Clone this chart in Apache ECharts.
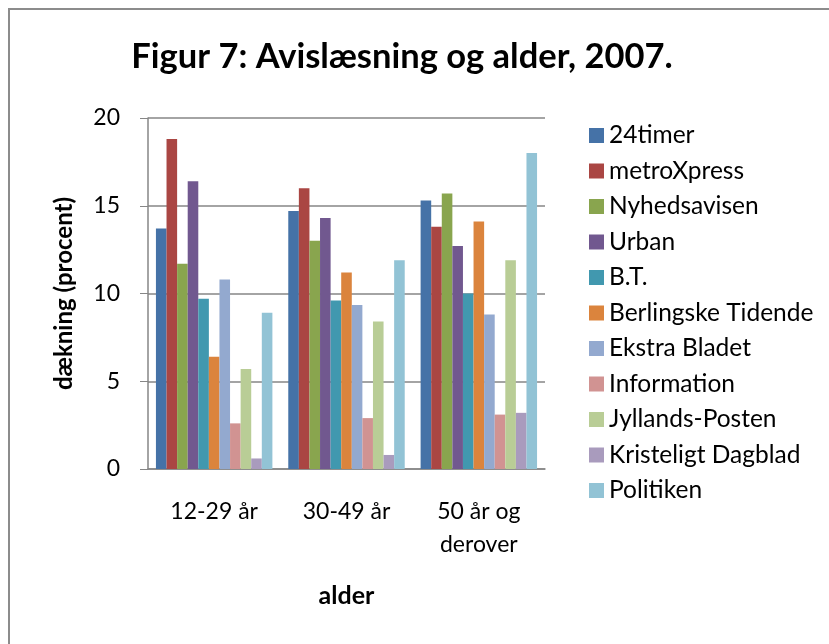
<!DOCTYPE html>
<html lang="da">
<head>
<meta charset="UTF-8">
<title>Figur 7: Avislæsning og alder, 2007.</title>
<script src="https://cdn.jsdelivr.net/npm/echarts@6/dist/echarts.min.js"></script>
<style>
    html, body { margin: 0; padding: 0; background: #fff; }
    #main { width: 829px; height: 644px; }
</style>
</head>
<body>
<div id="main"></div>
<script>
    // age groups
    var categories = ['12-29 år', '30-49 år', '50 år og\nderover'];
    var yTicks = [0, 5, 10, 15, 20];

    // coverage per paper (percent), one value per age group
    var timer24 = [13.7, 14.7, 15.3];
    var metroXpress = [18.8, 16.0, 13.8];
    var nyhedsavisen = [11.7, 13.0, 15.7];
    var urban = [16.4, 14.3, 12.7];
    var bt = [9.7, 9.6, 10.0];
    var berlingske = [6.4, 11.2, 14.1];
    var ekstraBladet = [10.8, 9.35, 8.8];
    var information = [2.6, 2.9, 3.1];
    var jyllandsPosten = [5.7, 8.4, 11.9];
    var kristeligt = [0.6, 0.8, 3.2];
    var politiken = [8.9, 11.9, 18.0];

    var names = ['24timer', 'metroXpress', 'Nyhedsavisen', 'Urban', 'B.T.', 'Berlingske Tidende',
        'Ekstra Bladet', 'Information', 'Jyllands-Posten', 'Kristeligt Dagblad', 'Politiken'];
    var values = [timer24, metroXpress, nyhedsavisen, urban, bt, berlingske,
        ekstraBladet, information, jyllandsPosten, kristeligt, politiken];
    var colors = ['#4572A7', '#AA4643', '#89A54E', '#71588F', '#4198AF', '#DB843D',
        '#93A9CF', '#D19392', '#B9CD96', '#A99BBD', '#92C3D5'];

    var font = 'Lato';

    var series = [];
    for (var i = 0; i < names.length; i++) {
        series.push({
            name: names[i],
            type: 'bar',
            data: values[i],
            barGap: '0%',
            barCategoryGap: '12%',
            itemStyle: { color: colors[i] }
        });
    }

    var chart = echarts.init(document.getElementById('main'));
    chart.setOption({
        animation: false,
        color: colors,
        textStyle: { fontFamily: font },
        graphic: [{
            type: 'rect',
            shape: { x: 9, y: 9, width: 900, height: 700 },
            style: { fill: 'none', stroke: '#8c8c8c', lineWidth: 2 },
            silent: true
        }],
        title: {
            text: 'Figur 7: Avislæsning og alder, 2007.',
            left: 397,
            textAlign: 'center',
            top: 34,
            textStyle: { fontFamily: font, fontSize: 34.5, fontWeight: 'bold', color: '#000' }
        },
        legend: {
            orient: 'vertical',
            left: 589,
            top: 123,
            padding: 0,
            itemWidth: 15,
            itemHeight: 15,
            itemGap: 10.5,
            icon: 'rect',
            data: names,
            textStyle: { fontFamily: font, fontSize: 24.5, lineHeight: 20, color: '#000' }
        },
        grid: { left: 148, right: 284, top: 118, bottom: 175, containLabel: false },
        xAxis: {
            type: 'category',
            data: categories,
            name: 'alder',
            nameLocation: 'middle',
            nameGap: 114,
            nameTextStyle: { fontFamily: font, fontSize: 25, fontWeight: 'bold', color: '#000' },
            axisLine: { lineStyle: { color: '#868686', width: 1.5 } },
            axisTick: { show: false },
            axisLabel: { fontFamily: font, fontSize: 23, lineHeight: 33, margin: 26, color: '#000' }
        },
        yAxis: {
            type: 'value',
            min: yTicks[0],
            max: yTicks[yTicks.length - 1],
            interval: 5,
            name: 'dækning (procent)',
            nameLocation: 'middle',
            nameGap: 72,
            nameTextStyle: { fontFamily: font, fontSize: 24, fontWeight: 'bold', color: '#000' },
            axisLine: { show: true, lineStyle: { color: '#868686', width: 1.5 } },
            axisTick: { show: true, length: 8, lineStyle: { color: '#868686' } },
            axisLabel: { fontFamily: font, fontSize: 23, margin: 28, color: '#000' },
            splitLine: { show: true, lineStyle: { color: '#868686', width: 1.5 } }
        },
        series: series
    });
</script>
</body>
</html>
